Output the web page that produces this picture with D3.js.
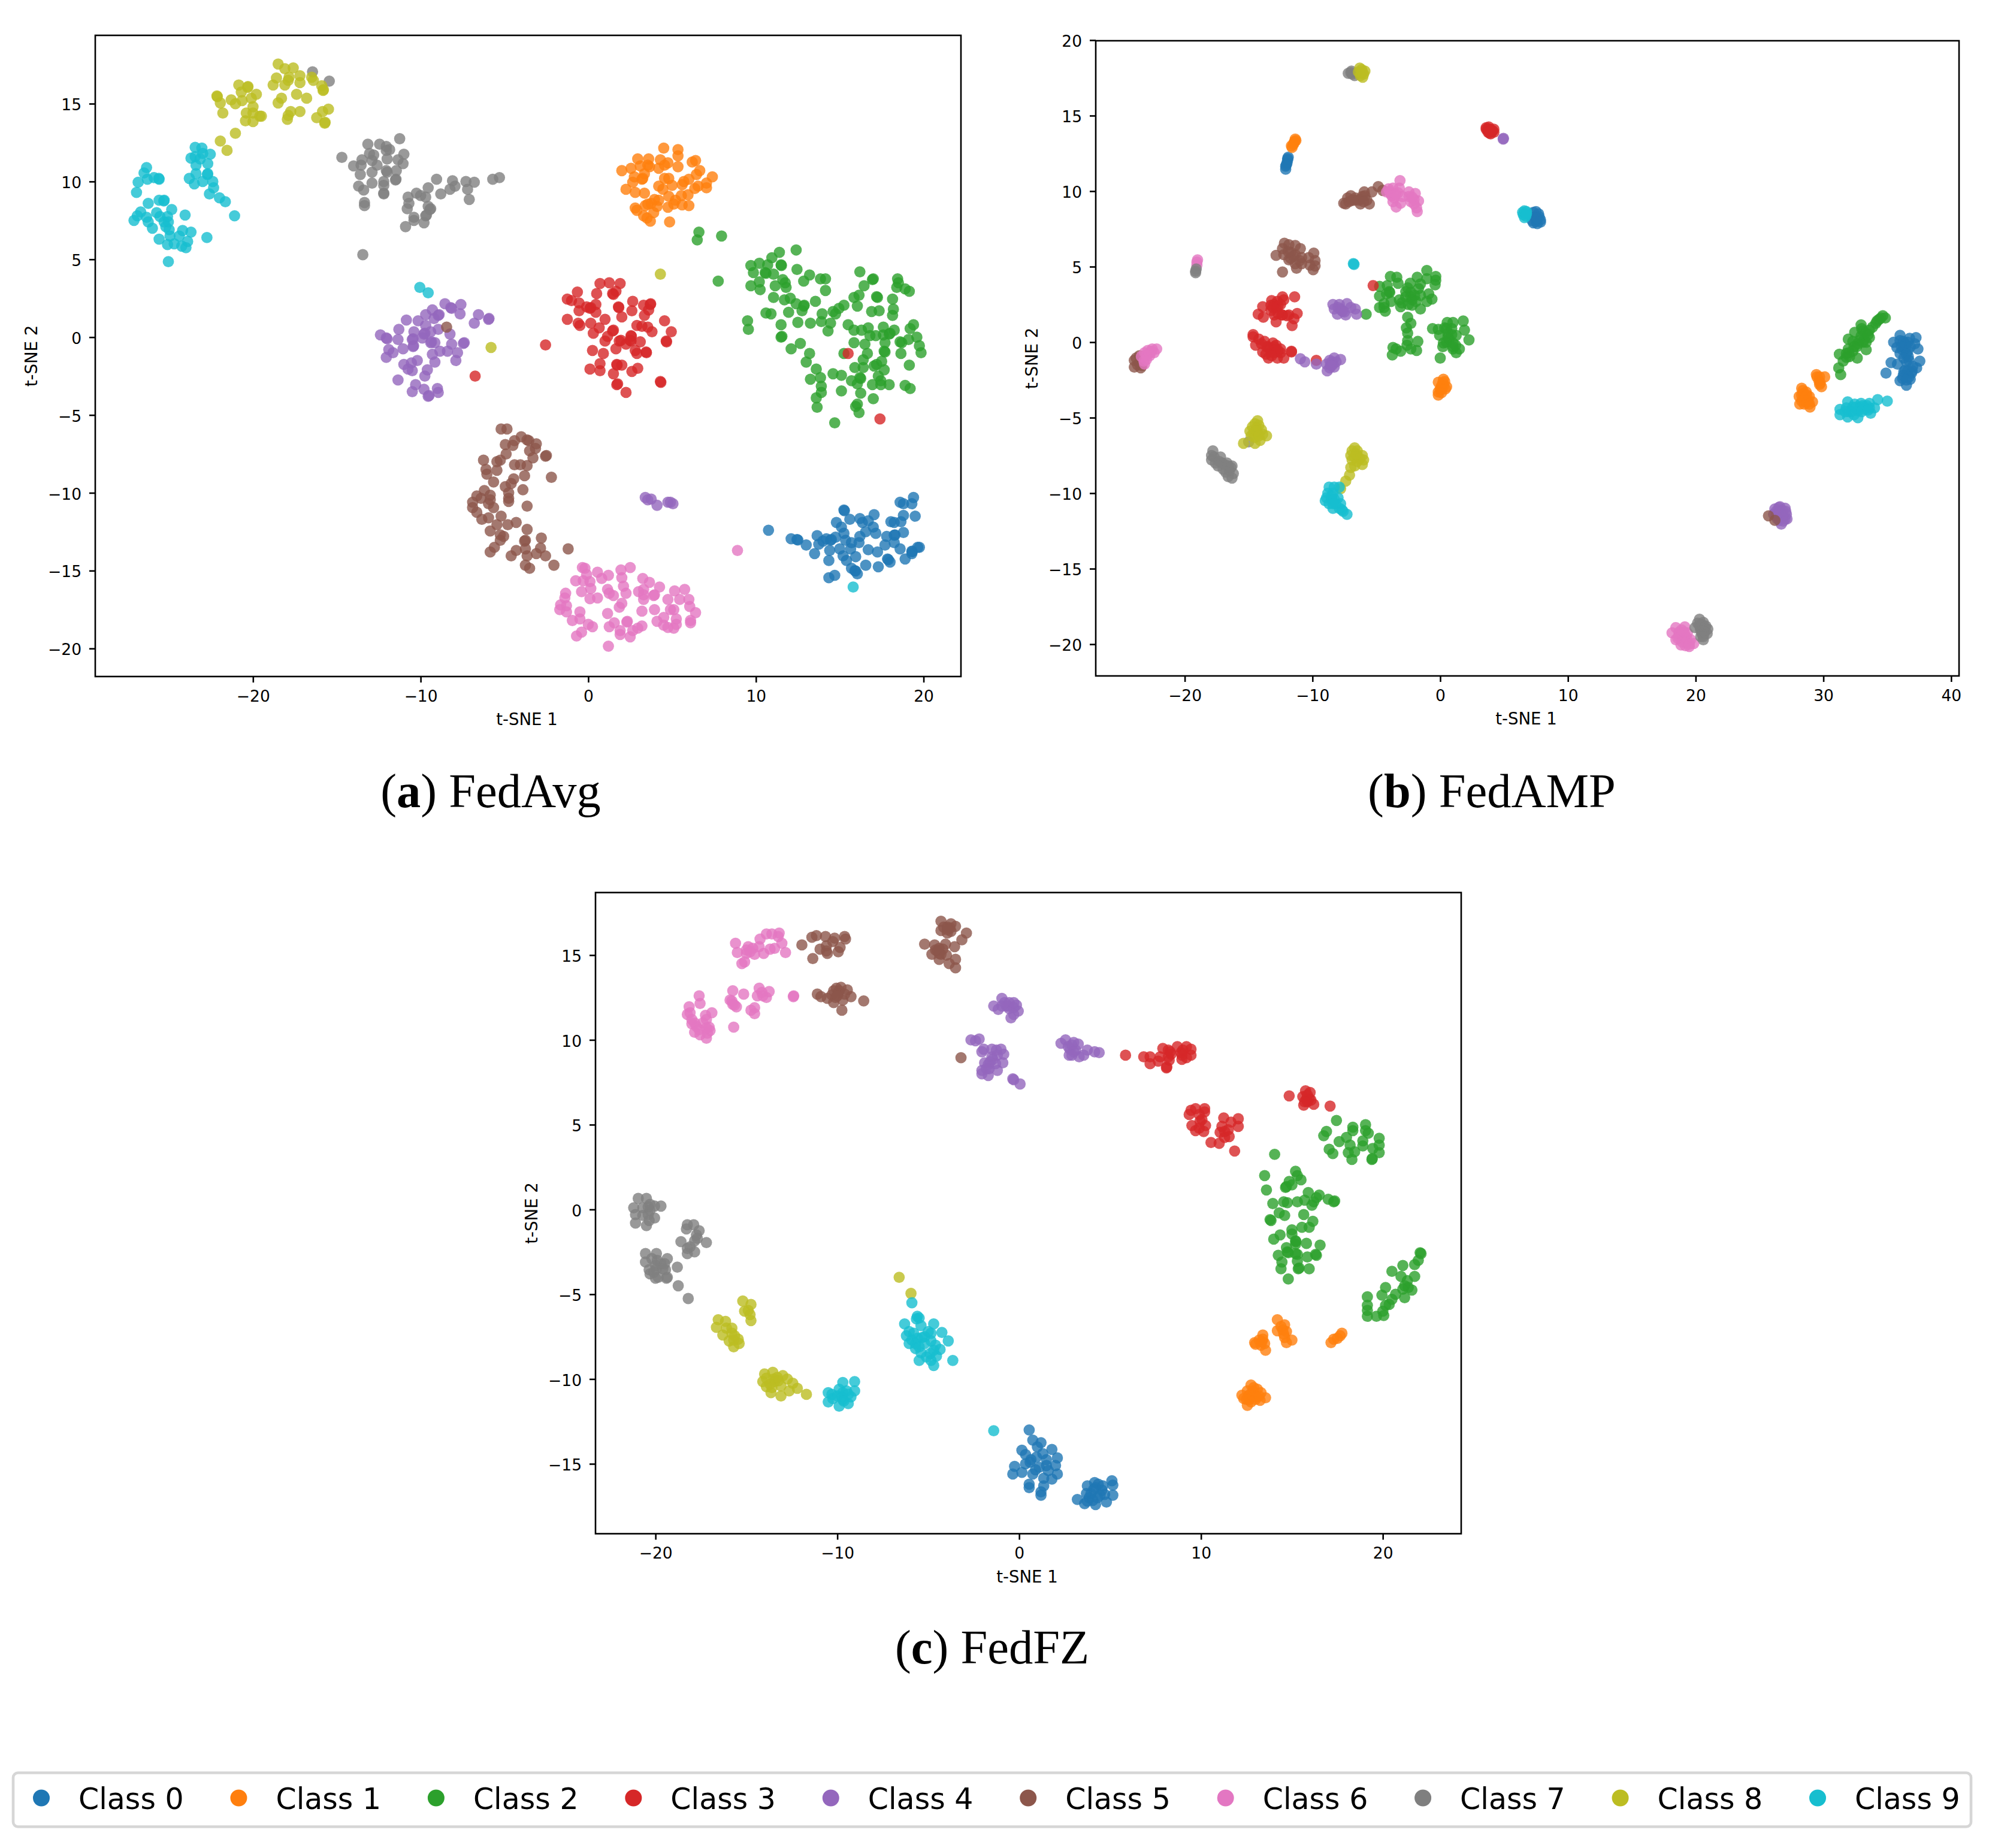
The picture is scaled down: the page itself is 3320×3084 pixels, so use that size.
<!DOCTYPE html>
<html>
<head>
<meta charset="utf-8">
<script src="https://cdn.jsdelivr.net/npm/d3@7"></script>
<style>
html, body { margin: 0; padding: 0; background: #fff; }
svg { display: block; }
text { fill: #000; }
</style>
</head>
<body>
<svg id="chart" width="3320" height="3084"></svg>
<script>
const classNames = ["Class 0", "Class 1", "Class 2", "Class 3", "Class 4", "Class 5", "Class 6", "Class 7", "Class 8", "Class 9"];
const classColors = ["#1f77b4", "#ff7f0e", "#2ca02c", "#d62728", "#9467bd", "#8c564b", "#e377c2", "#7f7f7f", "#bcbd22", "#17becf"];

// FedAvg
const avg0 = [[10.75,-12.4],[15.25,-11.1],[15.28,-11.15],[15.6,-11.7],[14.8,-11.9],[16.2,-11.65],[16.35,-11.9],[16.7,-11.8],[17.05,-11.4],[18.6,-10.6],[18.8,-10.7],[19.4,-10.3],[19.3,-10.7],[18.8,-11.45],[19.5,-11.5],[18.05,-11.85],[18.25,-11.9],[18.65,-11.85],[15.1,-12.2],[17,-12.2],[17.15,-12.6],[16.55,-12.5],[15.25,-12.6],[13.65,-12.75],[16.2,-12.8],[14.75,-12.85],[18.8,-12.55],[18.3,-12.7],[18.25,-12.72],[17.8,-12.8],[14.2,-12.95],[14.5,-13],[14.45,-13.05],[14,-13.1],[12.1,-12.95],[12.45,-13],[12.5,-13.03],[15.35,-13.05],[15.7,-13.2],[16.15,-13.2],[18.25,-13.2],[13.75,-13.3],[13,-13.35],[17.7,-13.35],[15.65,-13.6],[15,-13.6],[14.4,-13.7],[16.7,-13.65],[17.25,-13.8],[18.6,-13.6],[19.65,-13.5],[19.75,-13.5],[19.3,-13.75],[19.32,-13.78],[19.3,-13.9],[13.5,-13.9],[15.2,-14.05],[15.95,-14.1],[15.4,-14.35],[14.35,-14.35],[17.85,-14.25],[17.9,-14.3],[18,-14.45],[18.9,-14.25],[16.55,-14.65],[17.3,-14.75],[15.7,-14.85],[15.9,-15],[15.95,-15.02],[16.05,-15.2],[14.7,-15.3],[14.35,-15.45]];
const avg1 = [[4.5,12.15],[5.35,12.05],[5.35,11.65],[6.2,11.25],[6.4,11.35],[2.95,11.45],[3.6,11.45],[4.3,11.4],[4.75,11.2],[4.55,11.05],[5.35,10.95],[2.55,10.85],[2,10.7],[3.1,11],[3.55,11.05],[3.65,10.95],[4.2,10.85],[3.35,10.5],[6.65,10.7],[6.45,10.45],[7.4,10.3],[2.75,10.3],[3.2,10.15],[3.25,10.2],[2.65,9.95],[4.55,10.2],[4.8,10.2],[5.7,10],[6,10.15],[5.6,9.8],[7.05,9.9],[7.05,9.6],[6.55,9.7],[6.35,9.55],[4.2,9.7],[4.45,9.5],[5,9.75],[2.25,9.5],[2.8,9.3],[3.35,9.25],[5.95,9.15],[5.55,9.1],[4.8,9.05],[3.95,8.85],[3.55,8.55],[4.2,8.8],[5.2,8.8],[5.1,8.55],[5.6,8.5],[6,8.45],[4.75,8.35],[4.1,8.4],[3.75,8.6],[3.4,8.45],[2.8,8.3],[2.9,8.15],[3.9,8],[3.3,7.8],[3.5,7.65],[3.7,7.45],[4.85,7.4]];
const avg2 = [[6.6,6.75],[6.5,6.25],[7.95,6.5],[7.75,3.6],[12.4,5.6],[11.4,5.45],[10.95,5.1],[11.5,4.65],[11.52,4.6],[10.2,4.75],[9.7,4.6],[10.7,4.65],[9.85,4.15],[10.55,4.15],[10.6,4.1],[11.05,4.05],[12.45,4.35],[13.2,4],[13.85,3.75],[14.15,3.75],[12.85,3.6],[11.6,3.7],[11.75,3.5],[11.8,3.2],[11.15,3.3],[10.2,3.55],[9.7,3.3],[10.25,3.05],[14.15,3],[11.05,2.55],[11.7,2.4],[12.05,2.5],[12.4,2.15],[12.85,2],[12.88,2.05],[13.55,2.3],[12.75,1.7],[11.95,1.6],[10.6,1.55],[10.9,1.5],[9.5,1.05],[9.55,0.5],[11.5,0.8],[12.5,0.95],[13.25,0.9],[13.95,1.5],[13.9,1],[14.45,0.9],[14.3,0.4],[14.6,1.65],[14.75,1.5],[14.95,1.85],[15.25,2.05],[16.2,4.2],[16.95,3.7],[17,3.75],[16.45,3.3],[18.45,3.75],[18.5,3.5],[18.4,3.2],[18.9,3.1],[19.15,2.95],[16.15,2.7],[15.85,2.55],[17.2,2.6],[17.25,2.55],[18.15,2.45],[16.05,2],[16.9,1.65],[17.35,1.7],[18.2,1.8],[18.15,1.4],[15.5,0.8],[15.85,0.45],[16.3,0.45],[16.7,0.6],[16.8,0.1],[17.15,0.1],[17.6,0.65],[17.6,0.15],[17.95,0.2],[18,0.25],[18.25,0.45],[19.4,0.8],[19.2,0.55],[19.6,0],[19.1,-0.15],[18.6,-0.3],[18.7,-0.35],[19.75,-0.55],[19.85,-1],[18.65,-1.05],[17.7,-0.35],[17.65,-0.9],[17.7,-0.95],[16.5,-0.45],[15.85,-0.35],[15.25,-1.05],[16.65,-1.05],[12.65,-0.4],[12.1,-0.75],[11.5,0],[11.55,0.05],[13.2,-1.05],[13,-1.6],[13.6,-2.05],[13.85,-2.6],[13.25,-2.7],[14.6,-2.35],[15.1,-2.45],[16.4,-1.45],[17.5,-1.55],[17.2,-1.75],[17.05,-1.85],[17.65,-2.1],[16.4,-1.95],[15.9,-1.95],[17.3,-2.5],[16.2,-2.6],[16.25,-2.65],[15.7,-2.8],[16.05,-3],[17.45,-2.8],[17.45,-3.05],[17.95,-3.05],[16.95,-3.05],[13.9,-3.15],[19.15,-1.8],[18.9,-3.1],[19.2,-3.3],[15.1,-3.45],[16.25,-3.6],[13.9,-3.55],[13.6,-3.9],[17,-3.95],[16.05,-4.3],[15.95,-4.45],[16.15,-4.85],[13.65,-4.5],[14.7,-5.5]];
const avg3 = [[0.7,3.45],[1.25,3.5],[1.9,3.45],[1.65,2.95],[1.45,2.8],[1.5,2.75],[-0.65,2.9],[0.5,2.8],[-1.25,2.45],[-1,2.35],[-0.55,2.2],[0.45,2.1],[-0.1,1.95],[0.1,1.85],[0.15,1.9],[-0.55,1.7],[0.45,1.6],[1.8,1.95],[1.82,1.9],[2.65,2.3],[3.3,2.05],[3.7,2.1],[3.72,2.15],[3.6,1.75],[2.6,1.7],[3.35,1.4],[2,1.3],[-1.25,1.15],[1,1.15],[-0.6,0.9],[-0.5,0.75],[0.15,0.9],[0.65,0.6],[0.3,0.25],[4.55,1.05],[4.95,0.35],[2.9,0.75],[3.2,0.7],[3.55,0.65],[3.8,0.35],[1.45,0.4],[1.5,0.45],[1.15,0.05],[1,-0.25],[1.85,-0.25],[1.95,-0.2],[2.25,-0.45],[2.55,0.1],[2.57,0.05],[2.55,-0.25],[2.5,-0.2],[3.1,-0.3],[4.65,-0.25],[4.67,-0.3],[-2.55,-0.5],[0.25,-0.85],[0.9,-1.05],[1.65,-0.75],[2.8,-0.85],[2.9,-1.05],[3.45,-0.95],[3.47,-1],[0.7,-1.7],[0.1,-2.05],[0.7,-2.15],[1.7,-1.75],[1.72,-1.8],[2,-1.8],[1.5,-2.35],[2.95,-2],[2.6,-2.2],[1.7,-3.05],[1.75,-3],[4.3,-2.85],[4.33,-2.9],[2.25,-3.55],[-6.75,-2.5],[17.4,-5.25],[15.5,-1.05]];
const avg4 = [[-8.55,2.15],[-8.2,1.9],[-8.15,1.85],[-7.6,2.1],[-7.65,1.5],[-9.3,1.75],[-8.95,1.4],[-8.9,1.45],[-9.2,1.2],[-9.7,1.45],[-6.55,1.45],[-5.95,1.15],[-5.92,1.2],[-6.8,0.9],[-10.85,1.1],[-10.15,1.05],[-9.7,0.75],[-8.95,0.5],[-11.3,0.5],[-9.4,0.35],[-10.4,0.35],[-9.8,0.2],[-9.75,0.25],[-8.25,0.2],[-12.4,0.15],[-12.05,-0.05],[-12,-0.1],[-11.35,-0.15],[-10.5,-0.15],[-10.45,-0.1],[-9.9,-0.05],[-9.4,-0.35],[-9.35,-0.3],[-10.45,-0.6],[-10.42,-0.55],[-9.15,-0.35],[-8.15,-0.45],[-7.4,-0.35],[-7.45,-0.4],[-11.05,-0.75],[-11.9,-0.8],[-11.65,-1],[-12.05,-1.3],[-8.85,-0.9],[-8.4,-0.9],[-7.8,-1],[-9.3,-1.1],[-7.9,-1.5],[-9.15,-1.6],[-10.2,-1.5],[-11,-1.75],[-10.55,-1.65],[-10.75,-2.05],[-10.5,-2.15],[-9.6,-2.1],[-9.75,-2.5],[-11.35,-2.75],[-10.3,-3.05],[-9.8,-3.35],[-9,-3.3],[-8.95,-3.55],[-10.5,-3.5],[-9.55,-3.8],[-9.5,-3.75],[3.4,-10.3],[3.55,-10.45],[3.75,-10.4],[4.1,-10.8],[4.75,-10.6],[4.9,-10.6],[5.05,-10.7]];
const avg5 = [[-5.2,-5.9],[-4.85,-5.9],[-4,-6.4],[-3.65,-6.6],[-3.55,-6.65],[-4.4,-6.65],[-4.95,-6.9],[-4.5,-6.95],[-3.1,-6.85],[-3.15,-7.15],[-3.5,-7.3],[-2.55,-7.65],[-2.5,-7.6],[-3.3,-7.75],[-4.9,-7.5],[-6.25,-7.9],[-6.1,-8.5],[-6.05,-8.8],[-5.45,-8],[-5.25,-7.9],[-5.45,-8.55],[-4.4,-8.2],[-4.05,-8.2],[-3.65,-8.25],[-3.8,-8.9],[-2.2,-9],[-5.65,-9.3],[-4.95,-9.6],[-4.45,-9.1],[-4.6,-9.4],[-3.9,-9.8],[-4.75,-10],[-4.75,-10.35],[-4.75,-10.55],[-6.2,-9.85],[-6.65,-10.2],[-6.4,-10.35],[-5.85,-10.15],[-5.85,-10.45],[-6.9,-10.6],[-5.95,-10.7],[-6.9,-10.95],[-5.65,-10.95],[-6.65,-11.25],[-6.35,-11.7],[-5.95,-11.6],[-5.2,-11.5],[-3.65,-10.85],[-5.45,-12.05],[-4.3,-11.9],[-4.8,-12.05],[-3.65,-12.35],[-5.85,-12.45],[-5.25,-12.7],[-5.05,-12.8],[-5.25,-13.05],[-2.8,-12.9],[-3.8,-13.1],[-3.75,-13.05],[-5.6,-13.5],[-5.85,-13.8],[-3.75,-13.6],[-2.85,-13.55],[-4.3,-13.7],[-1.2,-13.6],[-3.1,-13.9],[-2.55,-14.05],[-3.65,-14.05],[-4.6,-14.05],[-3.75,-14.65],[-3.5,-14.85],[-2.05,-14.65],[-8.45,0.65]];
const avg6 = [[-0.35,-14.8],[-0.2,-14.85],[0.55,-15.1],[1.2,-15.3],[1.95,-14.95],[2.5,-14.8],[2,-15.45],[3.25,-15.5],[-0.1,-15.25],[-0.75,-15.65],[-0.3,-15.65],[0.1,-15.7],[0.8,-15.5],[3.65,-15.75],[4.25,-16.05],[0.15,-16.15],[2.1,-16],[5.75,-16.2],[-0.4,-16.35],[1.15,-16.2],[1.25,-16.45],[1.5,-16.6],[2.25,-16.45],[3,-16.35],[3.3,-16.2],[3.3,-16.55],[3.9,-16.6],[3.95,-16.55],[5.15,-16.3],[-1.35,-16.45],[-1.4,-16.75],[0.1,-16.8],[0.55,-16.75],[3.3,-16.85],[4.75,-16.85],[5.45,-16.85],[6,-16.85],[6.05,-17.3],[2,-17.1],[1.85,-17.35],[-1.65,-17.2],[-1.3,-17.25],[-1.7,-17.5],[-1.3,-17.65],[-0.5,-17.65],[1.15,-17.75],[3.2,-17.6],[3.95,-17.5],[4.9,-17.5],[5.1,-17.5],[6.4,-17.7],[4.5,-18],[5.25,-18.1],[-0.95,-18.2],[-0.5,-18.1],[6.1,-18.2],[6.1,-18.35],[4.1,-18.25],[2.3,-18.3],[2.33,-18.25],[1.55,-18.35],[0,-18.45],[0.25,-18.6],[1.25,-18.6],[3.2,-18.55],[4.5,-18.5],[5.25,-18.45],[4.75,-18.65],[5.1,-18.7],[2.95,-18.7],[2.65,-18.85],[1.9,-18.85],[1.9,-19.1],[2.5,-19.25],[-0.4,-18.95],[-0.7,-19.2],[1.2,-19.85],[8.9,-13.7]];
const avg7 = [[-16.45,17.05],[-15.45,16.45],[-14.7,11.55],[-13.15,12.4],[-12.45,12.4],[-11.25,12.75],[-12.05,12.25],[-12.05,12],[-11.85,12.05],[-11,11.75],[-13.05,11.8],[-12.8,11.7],[-12,11.45],[-13.5,11.4],[-12.9,11.35],[-11.35,11.4],[-11.05,11.15],[-14,11],[-13.55,11.05],[-12.6,11.05],[-12.05,10.7],[-11.45,10.7],[-13.6,10.45],[-12.9,10.6],[-12,10.6],[-11.5,10.1],[-11.47,10.15],[-12.2,10],[-12.9,9.9],[-13.7,9.7],[-13.4,9.45],[-12.2,9.75],[-12.2,9.2],[-12.2,9.25],[-13.35,8.65],[-13.35,8.45],[-13.45,5.3],[-10.75,9],[-10.25,9.25],[-10,9.1],[-9.55,9.6],[-9.7,9],[-9.05,10.15],[-8.1,10.05],[-7.95,9.7],[-8.25,9.5],[-8.8,9.2],[-7.3,10],[-6.8,9.95],[-7.2,9.5],[-7.1,8.85],[-5.7,10.15],[-5.3,10.25],[-10.7,8.6],[-10.8,8.25],[-9.55,8.4],[-9.4,8.25],[-9.45,8.2],[-9.7,7.8],[-9.65,7.85],[-10.4,7.7],[-10.4,7.5],[-9.8,7.35],[-10.9,7.1]];
const avg8 = [[-18.5,17.55],[-18.1,17.25],[-17.6,17.3],[-18.6,16.65],[-18.8,16.2],[-17.9,16.5],[-18.1,16.2],[-17.85,16.7],[-17.2,16.8],[-17.2,16.35],[-16.5,16.7],[-16.4,16.5],[-15.9,16.15],[-15.8,15.9],[-15.82,15.85],[-17.4,15.6],[-18.3,15.35],[-18.5,15.05],[-16.8,15.35],[-17.2,14.5],[-17.75,14.5],[-17.9,14.25],[-17.95,14],[-16.2,14.1],[-15.85,14.5],[-15.5,14.65],[-15.7,13.8],[-15.72,13.75],[-20.85,16.2],[-20.3,16.1],[-20.32,16.05],[-20.7,15.75],[-22.15,15.5],[-22.13,15.45],[-21.95,15.05],[-21.3,15.25],[-21.05,15],[-20.65,15.2],[-20.1,15.35],[-19.8,15.6],[-20,14.8],[-20.4,14.4],[-20,14.4],[-19.6,14.2],[-19.5,14.2],[-20.45,13.9],[-20,13.85],[-21.8,14.4],[-21.05,13.1],[-21.95,12.6],[-21.55,12],[-5.8,-0.66],[4.3,4.05]];
const avg9 = [[-23.45,12.2],[-23.05,12.15],[-23.7,11.5],[-23.45,11.6],[-23,11.8],[-22.55,11.75],[-23.15,11.45],[-22.7,11.15],[-23.4,11.05],[-23.4,10.5],[-22.7,10.5],[-22.72,10.45],[-23.8,10.2],[-23.5,9.85],[-23,10],[-22.4,10],[-22.35,9.6],[-22.6,9.2],[-22,8.95],[-21.65,8.7],[-21.1,7.8],[-26.35,10.9],[-26.5,10.55],[-26.3,10.15],[-26.85,9.95],[-26.95,9.3],[-25.9,10.25],[-25.6,10.15],[-25.62,10.2],[-26.25,8.6],[-25.6,8.8],[-25.3,8.8],[-25.32,8.75],[-24.85,8.2],[-24.05,7.85],[-26.7,8.05],[-26.9,7.8],[-27.1,7.5],[-26.35,7.7],[-26.25,7.4],[-25.75,8],[-25.55,7.75],[-25.1,7.75],[-25.3,7.4],[-25.05,7.4],[-26,7],[-25.2,7.1],[-25,6.9],[-24.2,6.85],[-23.7,6.75],[-24.4,6.5],[-24.95,6.5],[-25.6,6.3],[-22.75,6.4],[-23.9,6.15],[-25.1,5.95],[-24.7,6],[-24.25,5.85],[-24,5.75],[-25.05,4.85],[-10.05,3.2],[-9.55,2.85],[15.8,-16.05]];

// FedAMP
const amp0 = [[-11.9,12.25],[-11.95,12.05],[-12,11.85],[-12.1,11.65],[-12.1,11.45],[-11.95,12.15],[-12.05,11.75],[7.3,8.6],[7.5,8.65],[7.7,8.5],[7.4,8.3],[7.75,8.3],[7.85,8.1],[7.2,8.05],[7.5,8],[7.3,7.9],[7.6,7.85],[7.85,7.95],[7.55,8.2],[36,0.45],[37.25,0.3],[35.5,0],[36.75,0.25],[36.25,0.05],[37.15,-0.1],[37.4,-0.45],[35.75,-0.35],[36.4,-0.45],[36,-0.75],[36.65,-0.95],[36.5,-1.3],[37.55,-1.25],[35.3,-1.35],[35.8,-1.45],[37.3,-1.7],[34.9,-2.05],[36.4,-1.85],[36.9,-2.05],[36.25,-2.2],[36,-2.55],[36.8,-2.45],[36.5,-2.85],[36.3,-0.2],[36.6,0],[36.2,-0.5],[36.6,-0.6],[36,0.1],[36.4,-0.1],[36.8,-0.3],[36.1,-0.3],[36.5,-0.8],[36.3,-1.05],[36.7,-1.2],[36.6,-1.9],[36.3,-1.95],[36.7,-2.3],[36.2,-2.4],[36.5,-2.5],[36.95,-1.9],[37,-1.6]];
const amp1 = [[-11.35,13.45],[-11.4,13.3],[-11.5,13.1],[-11.6,12.9],[-11.3,13.35],[-11.65,13],[-11.45,13.2],[0.25,-2.45],[-0.15,-2.65],[0.5,-2.95],[0.1,-2.9],[-0.15,-3.3],[0.35,-2.6],[0,-3.1],[-0.15,-3.5],[0.1,-3.35],[0.4,-3.1],[0.2,-2.7],[0.1,-3.1],[0.25,-2.9],[29.45,-2.15],[30.1,-2.3],[29.65,-2.55],[29.85,-2.95],[29.7,-2.8],[28.3,-3.05],[28.65,-3.3],[28.1,-3.6],[28.9,-3.6],[29.15,-3.95],[28.15,-4.1],[28.5,-4.1],[28.95,-4.3],[28.5,-3.7],[28.4,-3.4],[28.8,-3.9],[28.3,-3.5],[28.6,-3.6],[28.3,-3.9],[28.7,-4],[28.4,-3.2],[28.7,-3.5],[28.9,-4.1],[29.5,-2.3],[29.7,-2.3],[29.75,-2.7]];
const amp2 = [[-1.05,4.75],[-3.9,4.35],[-3.4,4.3],[-1.8,4.3],[-0.35,4.35],[-0.35,4.1],[-1.05,4.2],[-3.3,3.9],[-2.35,3.9],[-4.75,3.7],[-4.15,3.75],[-0.4,3.8],[-4,3.35],[-3.95,3.3],[-2.55,3.6],[-1.55,3.85],[-2.7,3.35],[-4.75,3.05],[-2.3,3.3],[-1.7,3.55],[-0.9,3.2],[-3.2,2.8],[-3.85,2.7],[-2.2,2.8],[-1.55,3.1],[-0.65,2.85],[-4.4,2.55],[-4.75,2.3],[-4.3,2.05],[-3.1,2.35],[-2.2,2.45],[-1.55,2.2],[-1.05,2.7],[-2.7,3],[-2.3,3],[-3,2.6],[-2.5,2.5],[-2,3.1],[-1.9,2.7],[-4.2,3.2],[-4.4,2.3],[-2.55,1.65],[-2.3,1.25],[-2.65,0.95],[-2.55,0.6],[-2.55,0.1],[-1.75,0.05],[-2.6,-0.2],[-1.85,-0.55],[-3.7,-0.35],[-3.75,-0.85],[-3.1,-0.6],[-3.45,-0.45],[-2.3,-0.45],[-5.8,1.85],[1.8,1.4],[0.55,1.3],[-0.6,0.9],[-0.15,0.85],[0.35,0.95],[1,1.3],[1.9,0.8],[-0.05,0.45],[0.6,0.6],[1.25,0.45],[2.25,0.15],[0.25,-0.05],[1,-0.05],[0.2,-0.3],[1.5,-0.45],[1,-0.45],[1.25,-0.7],[0,-1.05],[0.7,0.2],[0.6,0.3],[0.5,0],[0.9,0.5],[1,-0.3],[1.2,-0.2],[0.5,0.9],[0.9,0.9],[34.65,1.75],[34.85,1.6],[34.35,1.5],[34.1,1.25],[33.85,1],[32.95,1.15],[33.6,0.8],[33.1,0.75],[32.45,0.65],[31.95,0.2],[33.6,0.3],[32.95,0.4],[32.3,0.05],[33.1,0],[32.6,-0.3],[33.35,-0.5],[31.95,-0.45],[31.8,-0.75],[31.25,-0.8],[32.65,-1.05],[32.05,-0.95],[31.55,-1.25],[31.2,-1.7],[31.35,-2.15],[33.35,0],[33,0.9],[33.3,0.6],[33.2,0.2],[32.8,0.1],[32.7,-0.1],[32.4,-0.3],[32.3,-0.6],[32,-0.7],[31.8,-1],[33.5,0.5],[34.2,1.4],[34.5,1.6]];
const amp3 = [[3.6,14.2],[3.8,14.25],[3.7,14.05],[3.9,14.1],[4.1,14],[4.2,13.9],[3.85,13.85],[3.95,13.8],[4.05,13.95],[3.75,13.9],[4.2,14.1],[3.6,14.1],[3.8,14.1],[4,14.05],[3.9,13.95],[-5.25,3.75],[-11.4,3],[-12.35,3],[-13.2,2.75],[-12.75,2.7],[-12.25,2.8],[-13.9,2.35],[-13.25,2.45],[-12.85,2.3],[-14.25,1.85],[-13.85,1.65],[-13.25,2.1],[-12.85,1.35],[-13,1.8],[-12.35,1.8],[-11.85,1.8],[-11.2,1.9],[-11.6,1.1],[-11.45,1.55],[-13,2.5],[-12.7,2.4],[-12.5,2.5],[-12.4,1.8],[-12,1.75],[-12.7,1.9],[-13.1,2.3],[-14.65,0.5],[-14.65,0.35],[-14.2,0.2],[-13.75,0.05],[-14.45,-0.2],[-13.1,-0.05],[-13.5,-0.3],[-13.9,-0.65],[-12.85,-0.2],[-12.5,-0.45],[-13.45,-1.05],[-12.75,-1.05],[-12.25,-1.05],[-11.65,-0.6],[-11.65,-0.65],[-13.25,-0.65],[-13.65,-0.8],[-13,-0.7],[-12.5,-0.7],[-13,-0.3],[-13.3,-0.4],[-12.9,-0.5],[-13.6,-0.3],[-14,-0.1],[-12.7,-0.55],[-13.2,-0.9],[-9.7,-1.2]];
const amp4 = [[4.93,13.45],[4.95,13.5],[-8.4,2.5],[-7.9,2.5],[-7.3,2.55],[-8.3,2.2],[-7.8,2.2],[-8.05,1.85],[-7.4,1.8],[-7.65,2.05],[-7,2.3],[-6.65,2.2],[-6.55,1.85],[-8,2.3],[-7.7,2.1],[-7.5,2],[-10.95,-1.1],[-10.6,-1.3],[-9.7,-1.45],[-8.9,-1.45],[-8.85,-1.9],[-8.3,-1.05],[-7.8,-1.15],[-8.65,-1.7],[-8.3,-1.65],[-8.15,-1.3],[-8.65,-1.2],[-8.4,-1.45],[-8.6,-1.5],[-8.5,-1.3],[-8.5,-1.55],[26.6,-10.9],[26.2,-11.05],[27,-11],[26.1,-11.4],[26.7,-11.3],[27.1,-11.4],[26.4,-11.7],[27,-11.7],[26.7,-12.05],[27.15,-11.7],[26.5,-11.1],[26.4,-11.4],[26.8,-11.6],[26.5,-10.95],[26.3,-11.2],[26.8,-11.15],[26.5,-11.5],[26.85,-11.45],[26.55,-11.8],[26.85,-11.85],[26.3,-11.5],[26.6,-11.25],[27.05,-11.2]];
const amp5 = [[-4.85,10.3],[-4.5,10.05],[-5.35,9.95],[-5.95,9.95],[-5.9,9.7],[-7,9.7],[-7.25,9.55],[-7.55,9.2],[-7.15,9.3],[-6.65,9.55],[-6.25,9.45],[-6.25,9.15],[-5.55,9.15],[-5.75,9.4],[-6.75,9.4],[-7.4,9.15],[-6.1,9.65],[-6.9,9.4],[-6.4,9.4],[-6,9.3],[-12.2,6.55],[-11.85,6.45],[-11.35,6.4],[-12.35,6.2],[-10.95,6.2],[-9.9,5.9],[-12.85,5.75],[-12.25,5.8],[-11.7,5.95],[-11.35,5.8],[-10.85,5.6],[-10.3,5.6],[-9.8,5.4],[-11.85,5.45],[-11.35,5.2],[-10.85,5.2],[-10.2,5.1],[-9.95,4.8],[-11.25,4.9],[-12.35,4.65],[-11.7,5.55],[-9.8,5.05],[-11.5,5.7],[-11,5.4],[-11.9,6],[-23.55,-0.9],[-23.95,-1.2],[-23.95,-1.65],[-23.45,-1.7],[-23.55,-1.4],[-23.8,-1.05],[-23.35,-1.55],[-23.7,-1.5],[25.7,-11.5],[26.2,-11.8]];
const amp6 = [[-3.15,10.7],[-4.05,10.15],[-3.7,10.2],[-3.2,10.2],[-4.2,9.95],[-3.85,9.8],[-3.6,9.55],[-3.45,8.95],[-3.1,9.2],[-3.7,9.3],[-2.95,9.65],[-2.45,9.95],[-1.95,9.85],[-2.45,9.65],[-2.3,9.3],[-1.7,9.35],[-2.05,9.15],[-1.85,8.9],[-1.8,8.65],[-3.95,9.95],[-3.3,9.9],[-2.05,9.45],[-3.8,9.7],[-3.5,9.8],[-2.2,9.6],[-19,5.45],[-19.05,5.3],[-19.05,5.1],[-22.2,-0.45],[-22.55,-0.45],[-22.9,-0.55],[-22.4,-0.7],[-22.75,-0.9],[-23.15,-0.7],[-23.4,-0.95],[-23,-1.15],[-23.15,-1.45],[-23.2,-1.25],[-22.8,-0.75],[-22.6,-0.6],[-23,-0.85],[18.45,-18.9],[19.15,-18.85],[18.15,-19.25],[18.7,-19.2],[19.35,-19.25],[18.45,-19.7],[19.1,-19.65],[18.85,-20.05],[19.5,-20.15],[19.85,-19.95],[19.6,-19.7],[19.2,-20.1],[18.7,-19.5],[19.2,-19.45],[18.7,-19.3],[18.95,-19.3],[18.6,-19.6],[18.95,-19.85],[19.25,-19.85],[19.3,-19.6],[19.5,-20],[18.9,-19.05],[19.1,-19.2]];
const amp7 = [[-7.2,17.8],[-6.95,17.95],[-6.7,17.65],[-6.9,17.75],[-6.5,17.8],[-7,17.85],[-19.15,4.7],[-19.15,4.6],[-19.1,4.85],[-17.8,-7.2],[-17.7,-7.6],[-17.2,-7.6],[-17.6,-8],[-17.1,-8],[-16.7,-8],[-17.9,-7.8],[-16.3,-8.2],[-17,-8.4],[-16.5,-8.5],[-16.2,-8.7],[-16.6,-8.9],[-16.3,-9],[-15,-6.6],[-17.3,-7.9],[-16.9,-8.1],[-16.6,-8.2],[-17.4,-8.2],[-16.8,-8.6],[-16.4,-8.3],[-17.9,-7.5],[20.3,-18.35],[20.6,-18.55],[19.95,-18.9],[20.35,-18.9],[20.95,-19],[20.5,-19.3],[20.9,-19.3],[20.6,-19.7],[20.15,-18.6],[20.7,-18.9],[20.4,-19.1],[20.6,-19.5],[20.5,-18.7],[20.3,-18.7],[20.6,-19.1],[20.4,-19.5],[20.8,-18.8],[20.7,-19.2]];
const amp8 = [[-6.3,18.15],[-6.2,17.8],[-6.07,17.55],[-5.9,17.95],[-6.4,17.9],[-6.15,18.05],[-6,17.75],[-6.25,17.65],[-6.1,17.9],[-14.3,-5.2],[-14.5,-5.4],[-14.2,-5.5],[-14.7,-5.6],[-14.4,-5.7],[-14,-5.8],[-14.9,-5.9],[-14.6,-6],[-14.3,-6],[-13.9,-6.1],[-14.8,-6.2],[-14.5,-6.3],[-13.6,-6.2],[-14.1,-6.5],[-15.4,-6.7],[-14.5,-6.7],[-14.4,-5.9],[-14.2,-6.2],[-6.7,-7],[-6.9,-7.2],[-6.5,-7.2],[-7,-7.5],[-6.5,-7.5],[-6.1,-7.5],[-6.9,-7.8],[-6.5,-7.9],[-6,-7.8],[-6.1,-8.1],[-6.7,-8.2],[-7,-8.3],[-7.1,-8.8],[-7.4,-9.2],[-7.8,-9.7],[-6.7,-7.6],[-6.3,-7.7],[-6.6,-7.4]];
const amp9 = [[6.45,8.6],[6.6,8.7],[6.75,8.65],[6.5,8.45],[6.7,8.35],[6.6,8.25],[6.75,8.5],[-6.8,5.2],[-6.75,5.15],[-8.7,-9.6],[-8.3,-9.6],[-7.9,-9.6],[-8.8,-10],[-8.4,-10],[-8.9,-10.3],[-8.5,-10.4],[-8,-10.3],[-8.7,-10.7],[-8.2,-10.7],[-7.8,-10.7],[-8.4,-11],[-7.9,-11],[-7.7,-11.1],[-7.3,-11.4],[-7.6,-11.2],[-9,-10.5],[-8.5,-10.2],[-8.3,-10.4],[-8.4,-10.7],[34.25,-3.8],[35,-3.9],[31.9,-3.95],[31.3,-4.45],[31.3,-4.8],[31.9,-4.95],[31.8,-4.35],[32.45,-4.1],[32.95,-4.05],[33.6,-4.05],[34,-4.35],[33.7,-4.7],[32.7,-5],[32.7,-4.55],[32.2,-4.6],[33.2,-4.45],[33.6,-4.35],[32.3,-4.3],[32.6,-4.3],[32.9,-4.3],[33.1,-4.2],[33.4,-4.2],[32,-4.6],[31.7,-4.6],[32.4,-4.8],[33,-4.6],[33.5,-4.5]];

// FedFZ
const fz0 = [[0.55,-13],[0.75,-13.6],[1.2,-13.75],[1,-14],[1.8,-14.15],[0.15,-14.2],[0.35,-14.45],[0.65,-14.75],[2.1,-14.65],[1.5,-14.75],[0.35,-15],[-0.25,-15.15],[1.5,-15.1],[2,-15.1],[-0.35,-15.6],[0.15,-15.5],[0.75,-15.6],[2.1,-15.6],[1.35,-15.85],[1.8,-15.9],[0.55,-16.2],[0.55,-16.4],[1.35,-16.3],[1.2,-16.65],[1.2,-16.85],[0.6,-14.9],[0.95,-14.6],[1.1,-15.2],[0.9,-15.35],[1.6,-15.4],[1.3,-14.4],[5.1,-16],[4.15,-16.1],[3.75,-16.3],[5.15,-16.25],[4.55,-16.55],[3.7,-16.75],[5.15,-16.85],[4.45,-16.85],[3.2,-17.1],[3.6,-17.35],[4.2,-17.4],[4.8,-17.25],[3.85,-17],[4.1,-16.5],[3.95,-16.75],[4.3,-17],[4.2,-16.4],[4.35,-16.2],[4.7,-16.8],[4.05,-17.15],[3.75,-17.2],[4.6,-16.3]];
const fz1 = [[14.2,-6.5],[14.6,-6.8],[14.2,-7.15],[14.7,-7.2],[14.6,-7.55],[15,-7.7],[14.7,-7.85],[14.5,-7.1],[14.55,-7.35],[14.4,-6.9],[13.4,-7.4],[13.4,-7.65],[12.95,-7.85],[13.3,-8],[13.55,-8.3],[13,-7.95],[13.35,-7.8],[13.2,-7.7],[13.5,-7.9],[17.75,-7.3],[17.65,-7.45],[17.3,-7.65],[17.15,-7.85],[17.5,-7.6],[12.75,-10.35],[13.1,-10.6],[12.55,-10.7],[12.25,-10.95],[12.95,-10.95],[13.55,-11.1],[12.75,-11.35],[12.55,-11.55],[13.25,-11.25],[12.6,-11],[12.85,-10.7],[12.7,-10.9],[12.5,-11.2],[13,-11.2],[12.85,-11],[13.2,-11],[13.3,-10.8],[12.35,-11.15],[12.65,-11.2],[12.9,-10.5],[13.05,-11.05]];
const fz2 = [[17.45,5.25],[16.9,4.6],[16.75,4.35],[18.35,4.85],[18.35,4.65],[19.05,5],[19.05,4.65],[19.2,4.5],[18,4.25],[17.6,4],[18.2,3.8],[18.9,4.05],[18.9,3.75],[19.8,4.2],[19.8,3.8],[19.45,3.6],[19.8,3.35],[17.05,3.55],[17.25,3.3],[18.1,3.35],[18.45,3.4],[18.3,2.95],[19.4,2.95],[19.42,3],[14.05,3.25],[13.5,2],[15.2,2.25],[15.3,2],[15.5,1.75],[14.85,1.65],[15,1.45],[14.65,1.3],[14.7,1.35],[13.6,1.15],[13.95,0.35],[14.55,0.45],[14.75,0.4],[15.3,0.45],[15.7,0.55],[15.9,1],[16.2,0.45],[16.5,0.85],[16.35,0.7],[17,0.6],[17.3,0.45],[17.35,0.5],[16.1,0.25],[14.3,-0.2],[14.6,-0.35],[15.65,-0.3],[13.8,-0.6],[13.85,-0.65],[16.15,-0.7],[15.55,-1.05],[15.95,-1.05],[15,-1.2],[15,-1.45],[14.35,-1.5],[14,-1.75],[15.2,-1.85],[15.22,-1.9],[15.2,-2.05],[14.7,-2.25],[15.8,-2],[16.55,-2.1],[14.75,-2.5],[14.8,-2.55],[14.25,-2.7],[15.3,-2.65],[15.2,-2.6],[15.85,-2.8],[16.3,-2.65],[16.35,-2.7],[15.3,-3.05],[14.45,-3.1],[14.4,-3.5],[15.35,-3.5],[15.4,-3.45],[15.95,-3.5],[14.8,-4.1],[22.05,-2.55],[22.1,-2.6],[21.95,-3],[21.75,-3.25],[21.1,-3.3],[20.5,-3.65],[21,-3.95],[21.75,-3.95],[21.35,-4.2],[20.15,-4.6],[21.6,-4.75],[21.2,-4.5],[19.95,-5.05],[19.15,-5.15],[21.2,-5.2],[20.35,-5.6],[19.15,-5.65],[19.15,-5.95],[20.15,-5.65],[20,-6],[19.15,-6.3],[19.65,-6.3],[20.05,-6.25],[21.4,-4.6],[21.1,-4.7],[20.7,-5],[20.5,-5.3]];
const fz3 = [[5.85,9.1],[6.85,9],[7.2,9],[7.2,8.6],[7.65,8.75],[7.9,9.5],[8.2,9.4],[7.75,9],[8.35,9.15],[8.25,8.8],[8.1,8.35],[8.12,8.4],[8.7,9.6],[9.2,9.6],[9.45,9.45],[8.9,9.25],[9.45,9.1],[9.2,8.95],[8.95,8.85],[8.2,9],[8.3,9.3],[9,9.4],[8.95,9.1],[9.7,5.95],[10.2,5.95],[9.45,5.85],[9.35,5.6],[10.2,5.75],[9.95,5.2],[9.5,4.95],[9.7,4.65],[10.25,4.95],[10.15,4.6],[10.55,3.95],[11,3.9],[11.85,3.45],[11.25,5.4],[11.65,5.15],[12.05,5.35],[12.05,4.9],[11.15,4.9],[11.05,4.55],[11.55,4.3],[11.3,4.25],[9.9,5.6],[10.05,5.3],[11.3,4.6],[11.5,4.7],[9.9,4.8],[14.85,6.7],[15.75,7],[16,6.9],[15.6,6.65],[15.95,6.55],[15.65,6.15],[16.2,6.2],[15.85,6.35],[17.1,6.1],[15.8,6.5],[15.85,6.75],[16.05,6.45],[15.7,6.35]];
const fz4 = [[-0.95,12.45],[-1.4,12],[-0.55,12.2],[-0.15,12.05],[-0.95,12],[-0.55,11.85],[-0.05,11.7],[-0.45,11.3],[-1.15,11.8],[-0.7,12],[-0.6,12],[-0.3,11.9],[-0.8,12.2],[-0.3,12.2],[-0.3,11.5],[-2.65,10],[-2.2,10.05],[-2.4,9.95],[-1.95,9.45],[-1.5,9.45],[-1,9.45],[-2.05,9.3],[-0.85,9.15],[-1.2,9.1],[-1.45,8.85],[-1.9,8.65],[-0.9,8.65],[-1.65,8.3],[-2.05,8.2],[-1.2,8.2],[-2.05,8],[-1.7,7.9],[-1.5,9],[-1.6,8.7],[-1.3,8.6],[-1.7,8.55],[-1.25,9.4],[-1.8,8.3],[-0.35,7.7],[-0.3,7.65],[0.05,7.4],[2.55,10],[2.3,9.8],[3,9.85],[3.25,9.75],[2.8,9.45],[2.75,9.1],[3.3,9],[3.55,9.1],[3.75,9.4],[4.15,9.3],[4.4,9.25],[3.1,9.4],[2.7,9.6],[2.9,9.7],[3,9.3],[2.9,9.1]];
const fz5 = [[-11.95,15.6],[-11.4,16.05],[-11.15,16.15],[-10.65,16.1],[-10.15,16],[-9.6,16.1],[-9.55,15.95],[-10.95,15.35],[-10.6,15.55],[-10.6,15.25],[-10.55,15.1],[-10.25,15.8],[-9.85,15.45],[-9.95,15.2],[-11.35,14.8],[-11.1,12.7],[-10.9,12.55],[-10.55,12.45],[-10.2,12.2],[-10.3,12.65],[-10.05,13.05],[-9.8,13.1],[-9.45,12.95],[-9.95,12.75],[-9.7,12.35],[-9.25,12.55],[-8.55,12.3],[-9.75,11.75],[-10.1,12.5],[-10.2,12.9],[-9.9,12.9],[-9.6,12.7],[-10,12.6],[-4.3,17],[-4.15,16.65],[-3.75,16.85],[-3.5,16.7],[-4.3,16.45],[-3.95,16.3],[-3.75,16.4],[-2.9,16.3],[-3.15,15.9],[-3.95,16.65],[-3.8,16.6],[-3.95,16.5],[-5.2,15.65],[-4.65,15.6],[-4.05,15.65],[-3.55,15.5],[-4.5,15.25],[-4.8,15.05],[-4.3,15.05],[-4,15],[-4.4,14.75],[-3.5,14.75],[-3.85,14.5],[-3.5,14.25],[-4.4,15.4],[-4.2,15.35],[-4.4,15.1],[-4.6,15.3],[-3.2,8.95]];
const fz6 = [[-15.6,15.7],[-15.5,15.15],[-14.9,15.5],[-14.65,15.4],[-15,15.1],[-14.55,15.05],[-14.3,15.5],[-14.25,15.95],[-13.9,16.25],[-13.6,16.25],[-13.2,16.3],[-13.25,16.1],[-13.05,15.7],[-14.05,15.1],[-13.7,15.35],[-13.45,15.4],[-12.85,15.15],[-15.1,14.6],[-15.25,14.5],[-15,15.3],[-14.8,15.2],[-17.6,12.6],[-17.55,12.15],[-18.15,11.95],[-18.1,11.6],[-18.25,11.5],[-16.9,11.6],[-17.25,11.45],[-17.2,11.2],[-18,10.95],[-17.75,10.8],[-17.05,10.75],[-17,10.55],[-17.85,10.45],[-17.55,10.3],[-17.2,10.1],[-17.15,10.4],[-17.4,11],[-17.85,11],[-18,11.2],[-17.6,10.6],[-17.2,10.7],[-15.7,10.75],[-15.9,12.35],[-15.75,12.9],[-15.15,12.7],[-15.8,12.3],[-15.65,12.05],[-15.55,11.95],[-15.75,12.1],[-14.75,11.75],[-14.55,11.55],[-14.55,11.9],[-14.3,13.05],[-14.4,12.6],[-14.15,12.8],[-13.9,12.5],[-13.75,12.85],[-14.1,12.6],[-12.4,12.6],[-12.42,12.55]];
const fz7 = [[-20.95,0.65],[-20.5,0.65],[-21.2,0.1],[-20.7,0.1],[-20.05,0.2],[-19.7,0.2],[-20.3,-0.05],[-21.1,-0.3],[-20.7,-0.35],[-20.05,-0.5],[-21.1,-0.8],[-20.5,-0.95],[-20.35,-0.65],[-20.4,0.15],[-20.4,-0.3],[-20.3,0.3],[-18.25,-0.9],[-17.9,-0.9],[-18.3,-1.15],[-17.6,-1.25],[-17.7,-1.7],[-17.85,-1.85],[-18.6,-1.9],[-17.2,-1.95],[-18.25,-2.3],[-17.85,-2.5],[-18.25,-2.6],[-17.75,-1.5],[-18.1,-2.2],[-20.55,-2.6],[-19.95,-2.6],[-20.2,-2.9],[-20.55,-3.1],[-19.35,-2.9],[-19.7,-3.2],[-18.8,-3.4],[-20.35,-3.55],[-19.95,-3.5],[-19.45,-3.55],[-20.3,-3.8],[-19.35,-4],[-19.85,-4],[-19.9,-3],[-20,-3.3],[-19.6,-3.5],[-20.1,-3.7],[-19.5,-3.2],[-18.75,-4.5],[-18.2,-5.25],[-20,-4.05],[-19.4,-4.05]];
const fz8 = [[-6.6,-4],[-5.95,-4.95],[-15.2,-5.4],[-14.75,-5.6],[-15.1,-6],[-14.8,-6.2],[-14.75,-6.55],[-14.9,-5.95],[-16.55,-6.5],[-16.15,-6.6],[-16.65,-6.95],[-15.8,-7],[-16.3,-7.4],[-15.65,-7.45],[-15.45,-7.65],[-15.95,-7.75],[-15.7,-8.1],[-15.4,-7.9],[-15.8,-7.3],[-15.7,-7.7],[-16.1,-7],[-14,-9.7],[-13.55,-9.6],[-13,-9.8],[-12.75,-10],[-14.1,-10.15],[-13.45,-10.15],[-12.45,-10.25],[-13.65,-10.8],[-13.1,-11],[-12.2,-10.55],[-12.65,-10.7],[-11.7,-10.9],[-13.9,-10.45],[-13.1,-10.4],[-13.5,-10],[-13.25,-10.1],[-13.7,-10.3],[-13.3,-9.9],[-13.6,-10.5],[-13.9,-9.95]];
const fz9 = [[-5.9,-5.5],[-5.6,-6.3],[-5.5,-6.4],[-5.65,-6.45],[-6.3,-6.75],[-4.7,-6.75],[-5.4,-6.85],[-4.25,-7.25],[-6.05,-7.2],[-4.85,-7.3],[-6.2,-7.45],[-5.35,-7.55],[-3.9,-7.75],[-4.85,-7.75],[-6.05,-7.9],[-5.7,-8.2],[-4.35,-8.25],[-5.4,-8.45],[-4.55,-8.65],[-5.5,-8.9],[-4.85,-8.9],[-3.65,-8.9],[-4.7,-9.2],[-5.2,-7.9],[-5.8,-7.3],[-5.6,-7.6],[-5.2,-7.5],[-5.9,-7.7],[-5.7,-7.9],[-5.5,-8.1],[-4.6,-8],[-4.7,-8.3],[-5.1,-8.7],[-4.9,-8.5],[-5,-7.2],[-9.05,-10.15],[-9.7,-10.2],[-9.9,-10.6],[-9.05,-10.7],[-10.5,-10.8],[-10.5,-11.35],[-9.75,-11.05],[-9.9,-11.6],[-9.4,-11.45],[-9.25,-11.05],[-10.25,-11.15],[-9.7,-10.8],[-9.7,-11.2],[-10,-11],[-9.5,-10.7],[-9.4,-10.9],[-10.3,-10.9],[-9.65,-11.3],[-1.4,-13.05]];

const xTicksAvg = [-20, -10, 0, 10, 20];
const yTicksAvg = [-20, -15, -10, -5, 0, 5, 10, 15];
const xTicksAmp = [-20, -10, 0, 10, 20, 30, 40];
const yTicksAmp = [-20, -15, -10, -5, 0, 5, 10, 15, 20];
const xTicksFz = [-20, -10, 0, 10, 20];
const yTicksFz = [-15, -10, -5, 0, 5, 10, 15];

const svg = d3.select("#chart");
const tickFont = "DejaVu Sans";

function panel(series, opts) {
	const x = d3.scaleLinear().domain(opts.xDomain).range([opts.left, opts.right]);
	const y = d3.scaleLinear().domain(opts.yDomain).range([opts.bottom, opts.top]);
	const g = svg.append("g");

	series.forEach((pts, i) => {
		g.append("g").selectAll("circle")
			.data(pts)
		.enter().append("circle")
			.attr("cx", d => x(d[0]))
			.attr("cy", d => y(d[1]))
			.attr("r", 9.4)
			.attr("fill", classColors[i])
			.attr("fill-opacity", 0.8);
	});

	g.append("rect")
		.attr("x", opts.left).attr("y", opts.top)
		.attr("width", opts.right - opts.left).attr("height", opts.bottom - opts.top)
		.attr("fill", "none").attr("stroke", "#000").attr("stroke-width", 2.6);

	const xAxis = g.append("g")
		.attr("transform", `translate(0,${opts.bottom})`)
		.call(d3.axisBottom(x).tickValues(opts.xTicks).tickSize(10).tickSizeOuter(0).tickPadding(13).tickFormat(d3.format("d")));
	const yAxis = g.append("g")
		.attr("transform", `translate(${opts.left},0)`)
		.call(d3.axisLeft(y).tickValues(opts.yTicks).tickSize(10).tickSizeOuter(0).tickPadding(13).tickFormat(d3.format("d")));

	[xAxis, yAxis].forEach(a => {
		a.select(".domain").remove();
		a.selectAll("line").attr("stroke", "#000").attr("stroke-width", 2.6);
		a.selectAll("text").attr("font-family", tickFont).attr("font-size", 26.5).attr("fill", "#000");
	});
	yAxis.selectAll("text").attr("dy", "0.4em");

	g.append("text")
		.attr("x", (opts.left + opts.right) / 2 - 2).attr("y", opts.bottom + 81)
		.attr("text-anchor", "middle")
		.attr("font-family", tickFont).attr("font-size", 27.6)
		.text("t-SNE 1");
	g.append("text")
		.attr("transform", `translate(${opts.left - 97},${(opts.top + opts.bottom) / 2}) rotate(-90)`)
		.attr("text-anchor", "middle")
		.attr("font-family", tickFont).attr("font-size", 27.6)
		.text("t-SNE 2");
}

function caption(letter, name, cx, baseline) {
	const t = svg.append("text")
		.attr("x", cx).attr("y", baseline)
		.attr("text-anchor", "middle")
		.attr("font-family", "Liberation Serif").attr("font-size", 80.5);
	t.append("tspan").text("(");
	t.append("tspan").attr("font-weight", "bold").text(letter);
	t.append("tspan").text(") " + name);
}

panel([avg0, avg1, avg2, avg3, avg4, avg5, avg6, avg7, avg8, avg9], {
	left: 159, right: 1604, top: 59, bottom: 1129,
	xDomain: [-29.41, 22.23], yDomain: [-21.8, 19.39],
	xTicks: xTicksAvg, yTicks: yTicksAvg
});
panel([amp0, amp1, amp2, amp3, amp4, amp5, amp6, amp7, amp8, amp9], {
	left: 1829, right: 3270, top: 68, bottom: 1128,
	xDomain: [-26.97, 40.62], yDomain: [-22.1, 19.96],
	xTicks: xTicksAmp, yTicks: yTicksAmp
});
panel([fz0, fz1, fz2, fz3, fz4, fz5, fz6, fz7, fz8, fz9], {
	left: 994, right: 2439, top: 1489.5, bottom: 2559.5,
	xDomain: [-23.3, 24.31], yDomain: [-19.12, 18.69],
	xTicks: xTicksFz, yTicks: yTicksFz
});

caption("a", "FedAvg", 819, 1347);
caption("b", "FedAMP", 2490, 1347);
caption("c", "FedFZ", 1656, 2776);

// legend
const legend = svg.append("g");
legend.append("rect")
	.attr("x", 22).attr("y", 2958.5).attr("width", 3268).attr("height", 90).attr("rx", 8)
	.attr("fill", "#fff").attr("stroke", "#ccc").attr("stroke-opacity", 0.8).attr("stroke-width", 4.6);
const legendX = d3.scalePoint().domain(classNames).range([69, 3034]);
const items = legend.selectAll("g.item")
	.data(classNames)
.enter().append("g")
	.attr("class", "item")
	.attr("transform", d => `translate(${legendX(d)},3000.5)`);
items.append("circle").attr("r", 14).attr("fill", (d, i) => classColors[i]);
items.append("text")
	.attr("x", 62).attr("y", 18)
	.attr("font-family", tickFont).attr("font-size", 49)
	.text(d => d);
</script>
</body>
</html>
